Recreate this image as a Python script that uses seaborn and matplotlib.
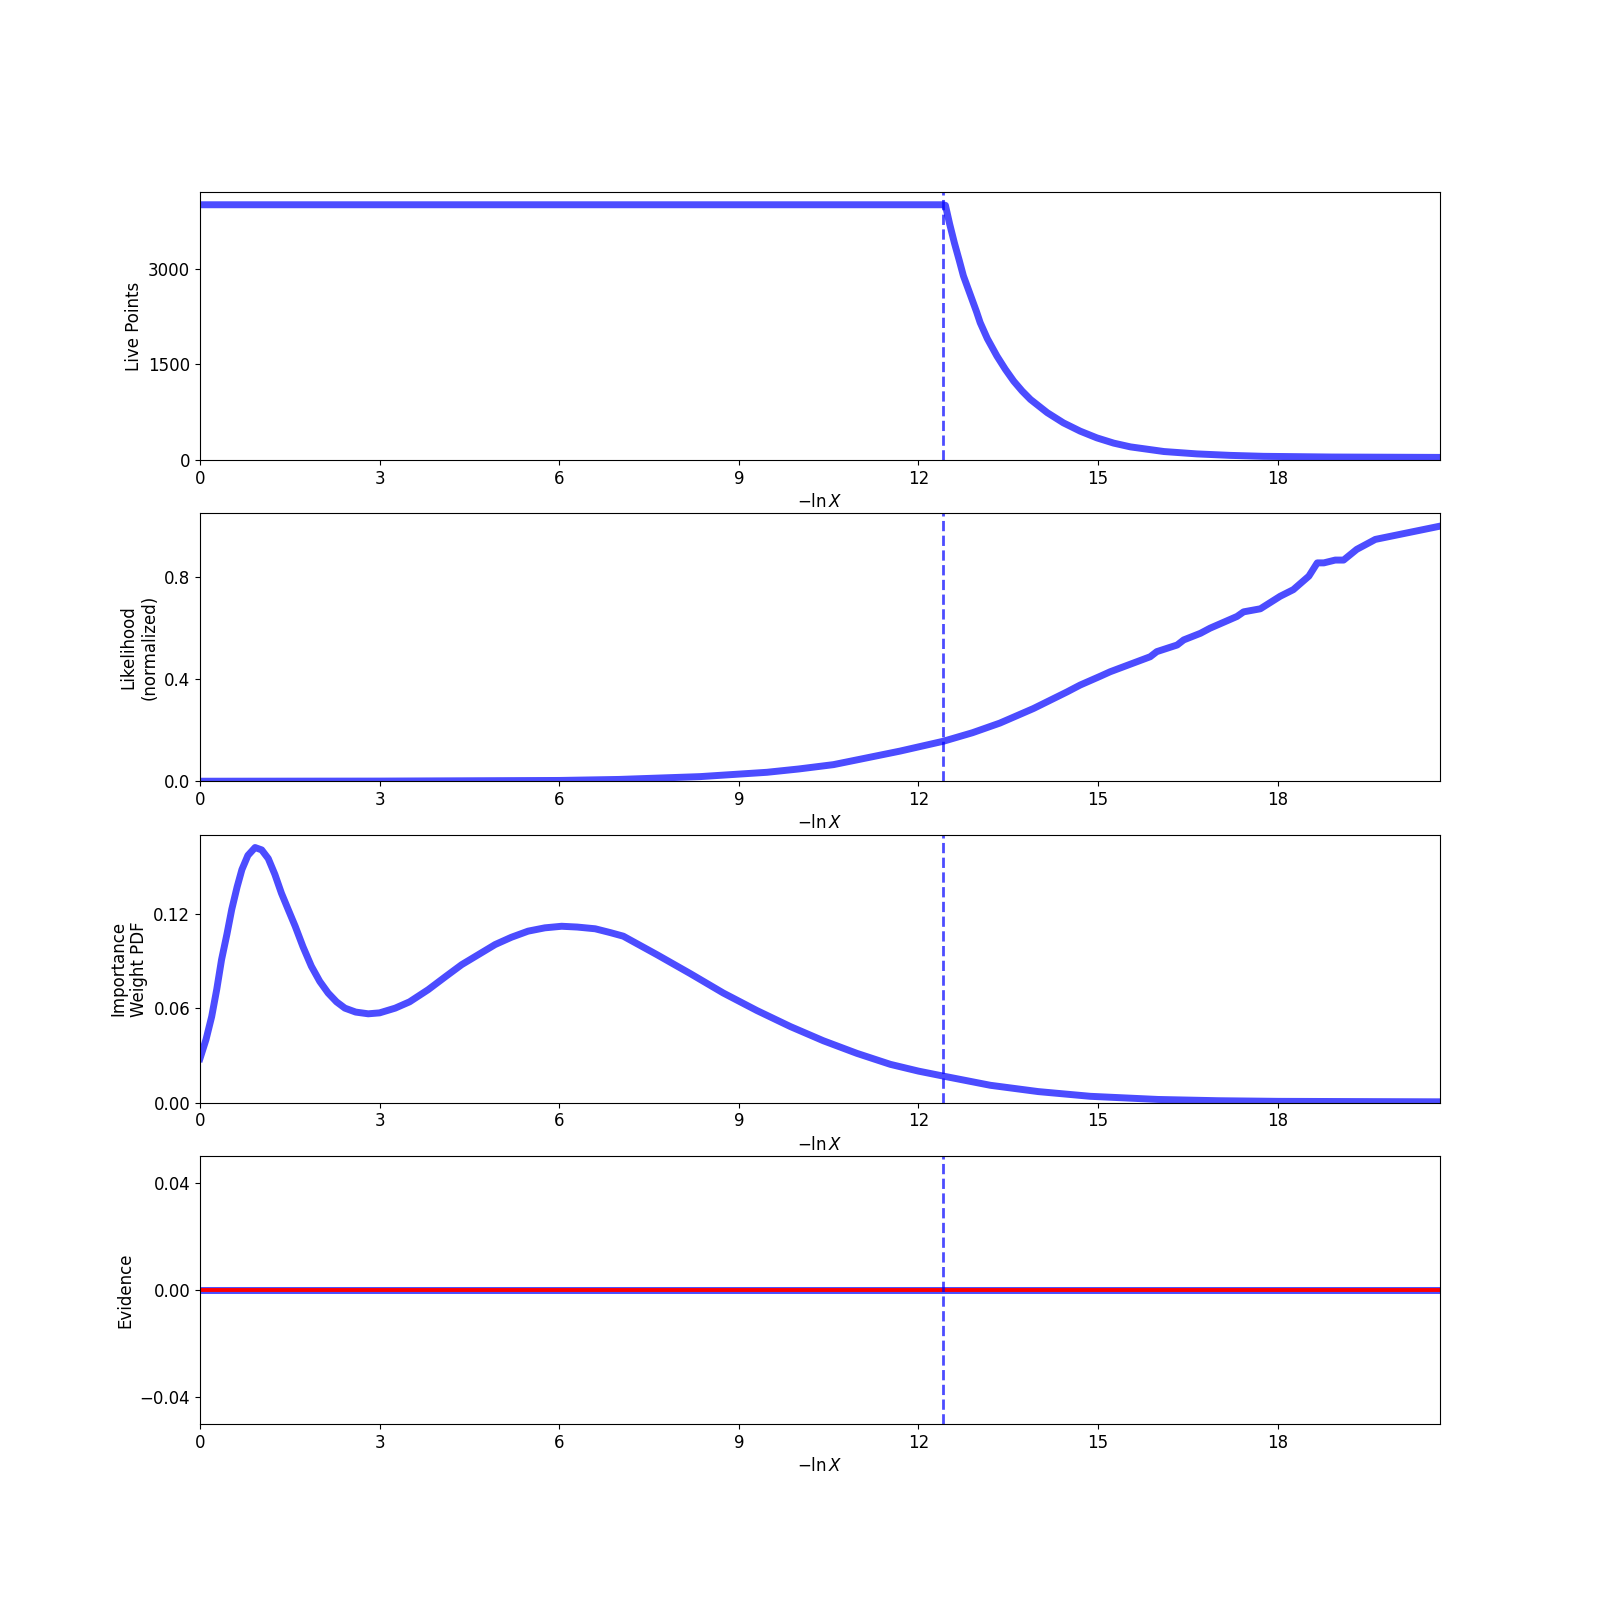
import matplotlib
matplotlib.use("Agg")
import matplotlib.pyplot as plt
import matplotlib.ticker as mticker
import seaborn as sns

# values
X_MAX = 20.71
X_MARK = 12.41
X_TICKS = [0, 3, 6, 9, 12, 15, 18]

live_x = [0.0, 12.41, 12.45, 12.52, 12.6, 12.68, 12.75, 12.83, 12.9, 12.97, 13.03, 13.15, 13.31,
          13.45, 13.59, 13.73, 13.87, 14.15, 14.42, 14.7, 14.98, 15.26, 15.54, 16.1, 16.65,
          17.2, 17.76, 18.9, 20.71]
live_n = [4000, 4000, 3990, 3700, 3400, 3130, 2885, 2680, 2500, 2320, 2152, 1900, 1627,
          1420, 1234, 1080, 947, 740, 580, 450, 344, 262, 203, 130, 93,
          70, 55, 44, 38]

like_x = [0.0, 3.0, 6.0, 7.0, 8.35, 9.47, 10.0, 10.58, 11.0, 11.69, 12.42, 12.9, 13.36, 13.92,
          14.48, 14.70, 15.04, 15.20, 15.87, 15.98, 16.32, 16.43, 16.71, 16.87, 17.32, 17.43,
          17.71, 18.04, 18.26, 18.52, 18.66, 18.77, 18.96, 19.10, 19.32, 19.63, 20.71]
like_y = [0.0, 0.0005, 0.003, 0.007, 0.018, 0.035, 0.048, 0.065, 0.085, 0.118, 0.157, 0.19,
          0.228, 0.285, 0.350, 0.377, 0.412, 0.429, 0.488, 0.508, 0.534, 0.554, 0.580, 0.600,
          0.646, 0.664, 0.676, 0.725, 0.751, 0.804, 0.856, 0.856, 0.867, 0.867, 0.909, 0.948, 1.0]

imp_x = [0.0, 0.1, 0.195, 0.28, 0.36, 0.45, 0.53, 0.62, 0.70, 0.80, 0.92, 1.03, 1.14, 1.25,
         1.36, 1.48, 1.59, 1.72, 1.86, 2.0, 2.14, 2.28, 2.42, 2.6, 2.81, 3.0, 3.26, 3.5, 3.81,
         4.1, 4.37, 4.65, 4.93, 5.2, 5.48, 5.76, 6.04, 6.3, 6.60, 6.85, 7.07, 7.63, 8.19, 8.74,
         9.30, 9.86, 10.41, 10.97, 11.53, 12.0, 12.42, 13.20, 14.0, 14.87, 16.0, 17.0, 18.0, 20.71]
imp_y = [0.028, 0.040, 0.0546, 0.072, 0.0908, 0.107, 0.1227, 0.137, 0.148, 0.157, 0.162,
         0.1605, 0.155, 0.145, 0.133, 0.122, 0.112, 0.099, 0.0866, 0.077, 0.0696, 0.064, 0.060,
         0.0575, 0.0564, 0.057, 0.060, 0.064, 0.0717, 0.080, 0.0876, 0.094, 0.1004, 0.105,
         0.1089, 0.111, 0.112, 0.1115, 0.1104, 0.108, 0.1057, 0.094, 0.0819, 0.0696, 0.0585,
         0.0483, 0.0393, 0.0313, 0.0243, 0.0200, 0.0168, 0.011, 0.0070, 0.004, 0.002, 0.0012,
         0.0008, 0.0005]

evid_x = [0.0, 20.71]
evid_y = [0.0, 0.0]

LINE = dict(color="blue", alpha=0.7, linewidth=5)

plt.rcParams["font.size"] = 12
plt.rcParams["font.family"] = ["DejaVu Sans"]

fig, axes = plt.subplots(4, 1, figsize=(16, 16), dpi=100)

panels = [
    (live_x, live_n, "Live Points", [0, 1500, 3000], (0, 1.05 * max(live_n))),
    (like_x, like_y, "Likelihood\n(normalized)", [0.0, 0.4, 0.8], (0, 1.05 * max(like_y))),
    (imp_x, imp_y, "Importance\nWeight PDF", [0.0, 0.06, 0.12], (0, 1.05 * max(imp_y))),
    (evid_x, evid_y, "Evidence", [-0.04, 0.0, 0.04], (-0.05, 0.05)),
]

for ax, (xs, ys, label, yticks, ylim) in zip(axes, panels):
    sns.lineplot(x=xs, y=ys, ax=ax, **LINE)
    if label == "Evidence":
        ax.plot(xs, ys, color="red", linewidth=2.8)
    ax.axvline(X_MARK, color="blue", linestyle="--", linewidth=2, alpha=0.7)
    ax.set_xlim(0, X_MAX)
    ax.set_ylim(*ylim)
    ax.set_xticks(X_TICKS)
    ax.set_yticks(yticks)
    ax.set_xlabel(r"$-\ln X$")
    ax.set_ylabel(label)

axes[1].yaxis.set_major_formatter(mticker.FormatStrFormatter("%.1f"))
axes[2].yaxis.set_major_formatter(mticker.FormatStrFormatter("%.2f"))

fig.savefig("out.png", dpi=100)
